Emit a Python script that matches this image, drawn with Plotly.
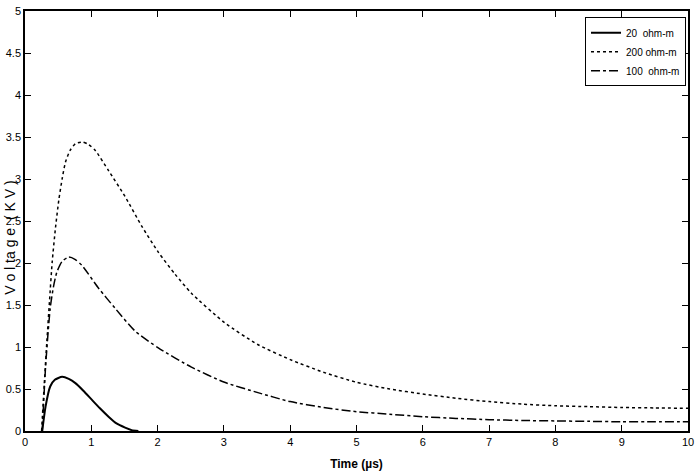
import plotly.graph_objects as go

# 20 ohm-m
x20 = [0.26, 0.31, 0.38, 0.45, 0.56, 0.66, 0.76, 0.88, 1.01, 1.13, 1.26, 1.38, 1.51, 1.61, 1.71]
y20 = [0.0, 0.29, 0.53, 0.61, 0.645, 0.62, 0.57, 0.48, 0.37, 0.27, 0.17, 0.09, 0.04, 0.01, 0.0]

# 200 ohm-m
x200 = [0.25, 0.29, 0.33, 0.37, 0.41, 0.46, 0.51, 0.56, 0.61, 0.68, 0.76, 0.87, 0.96, 1.06, 1.26,
        1.51, 1.76, 2.01, 2.26, 2.51, 3.01, 3.51, 4.0, 4.5, 5.0, 5.5, 6.0, 6.5, 7.0, 7.5, 8.0, 8.5,
        9.0, 9.5, 10.0]
y200 = [0.0, 0.55, 1.07, 1.55, 2.01, 2.42, 2.75, 3.0, 3.2, 3.34, 3.42, 3.44, 3.41, 3.34, 3.10,
        2.79, 2.44, 2.13, 1.87, 1.64, 1.29, 1.03, 0.85, 0.70, 0.58, 0.50, 0.44, 0.39, 0.35, 0.32,
        0.30, 0.29, 0.28, 0.275, 0.27]

# 100 ohm-m
x100 = [0.26, 0.31, 0.38, 0.43, 0.48, 0.56, 0.66, 0.76, 0.86, 1.11, 1.36, 1.66, 2.01, 2.51, 3.01,
        3.5, 4.0, 4.5, 5.0, 5.5, 6.0, 6.5, 7.0, 7.5, 8.0, 8.5, 9.0, 9.5, 10.0]
y100 = [0.0, 0.76, 1.46, 1.72, 1.89, 2.02, 2.07, 2.04, 1.97, 1.70, 1.46, 1.19, 0.99, 0.76, 0.58,
        0.46, 0.35, 0.28, 0.23, 0.20, 0.17, 0.15, 0.135, 0.125, 0.12, 0.115, 0.11, 0.11, 0.11]

x_ticks = [0, 1, 2, 3, 4, 5, 6, 7, 8, 9, 10]
y_ticks = [0, 0.5, 1, 1.5, 2, 2.5, 3, 3.5, 4, 4.5, 5]

FONT = "Liberation Sans Narrow, Arial Narrow, Liberation Sans, Arial, sans-serif"

fig = go.Figure()
fig.add_trace(go.Scatter(x=x20, y=y20, mode="lines", name="20  ohm-m",
                         line=dict(color="black", width=2, shape="spline", smoothing=0.6)))
fig.add_trace(go.Scatter(x=x200, y=y200, mode="lines", name="200 ohm-m",
                         line=dict(color="black", width=1.5, dash="dot", shape="spline", smoothing=0.6)))
fig.add_trace(go.Scatter(x=x100, y=y100, mode="lines", name="100  ohm-m",
                         line=dict(color="black", width=1.5, dash="dashdot", shape="spline", smoothing=0.6)))

axis_common = dict(showgrid=False, zeroline=False, showline=True, linecolor="black",
                   linewidth=1.5, mirror="ticks", ticks="inside", ticklen=6,
                   tickcolor="black", tickwidth=1, tickfont=dict(family=FONT, size=11, color="black"))

fig.update_layout(
    width=699, height=474,
    margin=dict(l=25, r=9, t=5, b=43),
    paper_bgcolor="white", plot_bgcolor="white",
    font=dict(family=FONT, color="black"),
    xaxis=dict(range=[0, 10], tickvals=x_ticks, ticktext=[str(v) for v in x_ticks],
               title=dict(text="<b>Time (µs)</b>", font=dict(family=FONT, size=12), standoff=13),
               **axis_common),
    yaxis=dict(range=[0, 5], tickvals=y_ticks, ticktext=[f"{v:g}" for v in y_ticks],
               **axis_common),
    legend=dict(x=0.997, y=0.985, xanchor="right", yanchor="top",
                bordercolor="black", borderwidth=1, bgcolor="white",
                font=dict(family=FONT, size=10), tracegroupgap=0, itemwidth=30),
    showlegend=True,
)

fig.add_annotation(text="V o l ta g e  ( K V )", xref="paper", yref="paper",
                   x=0, y=0.46, xanchor="center", yanchor="middle", xshift=-15,
                   textangle=-90, showarrow=False,
                   font=dict(family=FONT, size=14, color="black"))

fig.write_html("out.html")
